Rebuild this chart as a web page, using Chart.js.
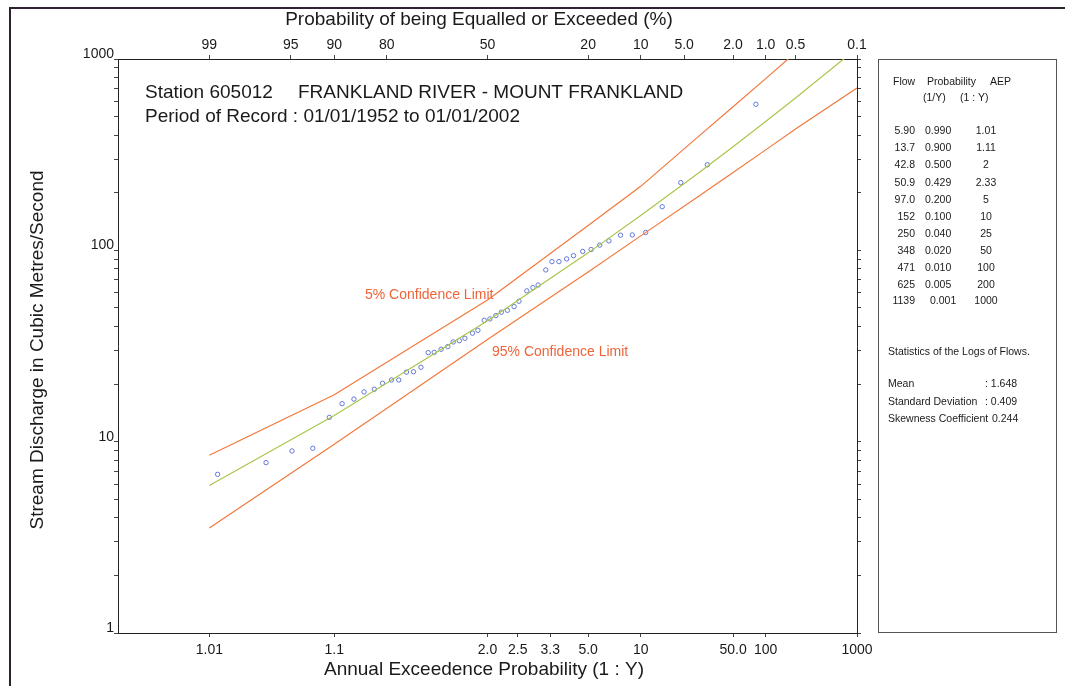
<!DOCTYPE html>
<html>
<head>
<meta charset="utf-8">
<title>Flood frequency - Station 605012</title>
<script src="https://cdn.jsdelivr.net/npm/chart.js@4.4.1/dist/chart.umd.min.js"></script>
<style>
html, body { margin: 0; padding: 0; background: #fff; }
#wrap { position: relative; width: 1065px; height: 686px; }
</style>
</head>
<body>
<div id="wrap"><canvas id="floodChart" width="1065" height="686"></canvas></div>
<script>
// ranked annual maxima: exceedance probability (%) and flow (m3/s)
const obsProb = [98.8, 96.8, 94.9, 92.8, 90.7, 88.8, 86.8, 84.9, 82.8, 81.0,
                 78.9, 77.1, 75.1, 73.2, 71.1, 69.0, 67.2, 65.1, 63.0, 61.3,
                 59.3, 57.5, 55.0, 53.2, 51.1, 49.2, 47.2, 45.4, 43.4, 41.2,
                 39.6, 37.1, 35.2, 33.6, 31.3, 29.5, 27.5, 25.4, 23.6, 21.3,
                 19.3, 17.4, 15.5, 13.3, 11.3, 9.3, 7.2, 5.3, 3.3, 1.24];
const obsFlow = [6.75, 7.77, 8.94, 9.24, 13.4, 15.8, 16.7, 18.2, 18.8, 20.2,
                 21.0, 21.0, 23.1, 23.2, 24.5, 29.2, 29.3, 30.4, 31.4, 33.2,
                 33.7, 34.7, 36.9, 38.2, 43.1, 43.8, 45.6, 47.5, 48.6, 50.8,
                 54.2, 61.4, 63.8, 65.9, 79.0, 87.3, 87.3, 90.2, 93.8, 98.7,
                 101, 106.5, 112, 120, 120.4, 124, 169, 226, 280, 580];

// fitted curve, straight from the table in the side panel
const fitProb = [99, 90, 50, 42.9, 20, 10, 4, 2, 1, 0.5, 0.1];
const fitFlow = [5.90, 13.7, 42.8, 50.9, 97.0, 152, 250, 348, 471, 625, 1139];
const fitProbText = ['0.990', '0.900', '0.500', '0.429', '0.200', '0.100', '0.040', '0.020', '0.010', '0.005', '0.001'];
const fitFlowText = ['5.90', '13.7', '42.8', '50.9', '97.0', '152', '250', '348', '471', '625', '1139'];
const fitAepText = ['1.01', '1.11', '2', '2.33', '5', '10', '25', '50', '100', '200', '1000'];

// confidence limits
const upperProb = [99, 90, 50, 20, 10, 4, 2, 1, 0.5];
const upperFlow = [8.5, 17.6, 55, 135, 216, 387, 563, 790, 1080];
const lowerProb = [99, 90, 50, 20, 10, 4, 2, 1, 0.5, 0.1];
const lowerFlow = [3.54, 9.7, 34.2, 77, 119, 189, 255, 335, 431, 706];

// axis ticks
const topTickProb = [99, 95, 90, 80, 50, 20, 10, 5, 2, 1, 0.5, 0.1];
const topTickLabels = ['99', '95', '90', '80', '50', '20', '10', '5.0', '2.0', '1.0', '0.5', '0.1'];
const bottomTickProb = [99, 90, 50, 40, 30, 20, 10, 2, 1, 0.1];
const bottomTickLabels = ['1.01', '1.1', '2.0', '2.5', '3.3', '5.0', '10', '50.0', '100', '1000'];
const flowTicks = [1, 2, 3, 4, 5, 6, 7, 8, 9, 10, 20, 30, 40, 50, 60, 70, 80, 90,
                   100, 200, 300, 400, 500, 600, 700, 800, 900, 1000];
const flowLabelled = [1, 10, 100, 1000];

const FONT = '"Liberation Sans", Arial, sans-serif';

// inverse normal (Acklam)
function normInv(p) {
    const a = [-39.69683028665376, 220.9460984245205, -275.9285104469687, 138.3577518672690, -30.66479806614716, 2.506628277459239];
    const b = [-54.47609879822406, 161.5858368580409, -155.6989798598866, 66.80131188771972, -13.28068155288572];
    const c = [-0.007784894002430293, -0.3223964580411365, -2.400758277161838, -2.549732539343734, 4.374664141464968, 2.938163982698783];
    const d = [0.007784695709041462, 0.3224671290700398, 2.445134137142996, 3.754408661907416];
    const pl = 0.02425;
    let q, r;
    if (p < pl) {
        q = Math.sqrt(-2 * Math.log(p));
        return (((((c[0] * q + c[1]) * q + c[2]) * q + c[3]) * q + c[4]) * q + c[5]) / ((((d[0] * q + d[1]) * q + d[2]) * q + d[3]) * q + 1);
    }
    if (p > 1 - pl) {
        q = Math.sqrt(-2 * Math.log(1 - p));
        return -(((((c[0] * q + c[1]) * q + c[2]) * q + c[3]) * q + c[4]) * q + c[5]) / ((((d[0] * q + d[1]) * q + d[2]) * q + d[3]) * q + 1);
    }
    q = p - 0.5;
    r = q * q;
    return (((((a[0] * r + a[1]) * r + a[2]) * r + a[3]) * r + a[4]) * r + a[5]) * q / (((((b[0] * r + b[1]) * r + b[2]) * r + b[3]) * r + b[4]) * r + 1);
}

function normCdf(z) {
    const t = 1 / (1 + 0.2316419 * Math.abs(z));
    const y = 1 - 0.3989423 * Math.exp(-z * z / 2) * t * (0.3193815 + t * (-0.3565638 + t * (1.781478 + t * (-1.821256 + t * 1.330274))));
    return z >= 0 ? y : 1 - y;
}

// exceedance % -> standard normal variate
const zOf = pct => normInv(1 - pct / 100);

// normal probability paper scale
class ProbabilityScale extends Chart.Scale {
    parse(raw) { return +raw; }
    determineDataLimits() {
        this.min = this.options.min;
        this.max = this.options.max;
    }
    buildTicks() {
        return (this.options.ticks.values || []).map(v => ({ value: v }));
    }
    configure() {
        super.configure();
        this._zStart = zOf(this.min);
        this._zEnd = zOf(this.max);
    }
    getLabelForValue(v) { return String(v); }
    getPixelForValue(v) {
        return this.getPixelForDecimal((zOf(v) - this._zStart) / (this._zEnd - this._zStart));
    }
    getValueForPixel(px) {
        const z = this._zStart + this.getDecimalForPixel(px) * (this._zEnd - this._zStart);
        return 100 * (1 - normCdf(z));
    }
    getPixelForTick(i) { return this.getPixelForValue(this.ticks[i].value); }
    getBasePixel() { return this.getPixelForValue(this.min); }
}
ProbabilityScale.id = 'probability';
ProbabilityScale.defaults = {};
Chart.register(ProbabilityScale);

const pairs = (xs, ys) => xs.map((x, i) => ({ x: x, y: ys[i] }));

const axisGrid = { display: true, drawOnChartArea: false, drawTicks: true, tickLength: 4, color: '#444', lineWidth: 1 };
const axisBorder = { display: true, color: '#222', width: 1 };

const annotations = {
    id: 'annotations',
    afterDraw(chart) {
        const ctx = chart.ctx;
        ctx.save();

        // page frame
        ctx.strokeStyle = '#2e2230';
        ctx.lineWidth = 2;
        ctx.beginPath();
        ctx.moveTo(10, 686);
        ctx.lineTo(10, 8);
        ctx.lineTo(1065, 8);
        ctx.stroke();

        ctx.fillStyle = '#1a1a1a';
        ctx.textBaseline = 'middle';

        // axis titles
        ctx.font = '19px ' + FONT;
        ctx.textAlign = 'center';
        ctx.fillText('Probability of being Equalled or Exceeded (%)', 479, 20);
        ctx.fillText('Annual Exceedence Probability (1 : Y)', 484, 670);
        ctx.save();
        ctx.translate(38, 350);
        ctx.rotate(-Math.PI / 2);
        ctx.fillText('Stream Discharge in Cubic Metres/Second', 0, 0);
        ctx.restore();

        // station header
        ctx.textAlign = 'left';
        ctx.font = '19px ' + FONT;
        ctx.fillText('Station 605012', 145, 93);
        ctx.fillText('FRANKLAND RIVER - MOUNT FRANKLAND', 298, 93);
        ctx.fillText('Period of Record : 01/01/1952 to 01/01/2002', 145, 117);

        // confidence limit labels
        ctx.font = '14px ' + FONT;
        ctx.fillStyle = '#f0643a';
        ctx.fillText('5% Confidence Limit', 365, 295);
        ctx.fillText('95% Confidence Limit', 492, 352);

        // side panel
        ctx.strokeStyle = '#555';
        ctx.lineWidth = 1;
        ctx.strokeRect(878.5, 59.5, 178, 573);
        ctx.fillStyle = '#1a1a1a';
        ctx.font = '10.5px ' + FONT;
        ctx.fillText('Flow', 893, 82);
        ctx.fillText('Probability', 927, 82);
        ctx.fillText('AEP', 990, 82);
        ctx.fillText('(1/Y)', 923, 98);
        ctx.fillText('(1 : Y)', 960, 98);
        const rowY = [131, 148, 165, 183, 200, 217, 234, 251, 268, 285, 301];
        fitFlowText.forEach((t, i) => {
            ctx.textAlign = 'right';
            ctx.fillText(t, 915, rowY[i]);
            ctx.textAlign = 'left';
            ctx.fillText(fitProbText[i], i === 10 ? 930 : 925, rowY[i]);
            ctx.textAlign = 'center';
            ctx.fillText(fitAepText[i], 986, rowY[i]);
        });
        ctx.textAlign = 'left';
        ctx.fillText('Statistics of the Logs of Flows.', 888, 352);
        ctx.fillText('Mean', 888, 384);
        ctx.fillText(': 1.648', 985, 384);
        ctx.fillText('Standard Deviation', 888, 402);
        ctx.fillText(': 0.409', 985, 402);
        ctx.fillText('Skewness Coefficient', 888, 419);
        ctx.fillText('0.244', 992, 419);

        ctx.restore();
    }
};

new Chart(document.getElementById('floodChart'), {
    type: 'scatter',
    data: {
        datasets: [
            {
                label: '5% Confidence Limit',
                data: pairs(upperProb, upperFlow),
                showLine: true,
                borderColor: '#f2783c',
                borderWidth: 1.2,
                pointRadius: 0,
                tension: 0
            },
            {
                label: '95% Confidence Limit',
                data: pairs(lowerProb, lowerFlow),
                showLine: true,
                borderColor: '#f2783c',
                borderWidth: 1.2,
                pointRadius: 0,
                tension: 0
            },
            {
                label: 'Fitted',
                data: pairs(fitProb, fitFlow),
                showLine: true,
                borderColor: '#a8c64a',
                borderWidth: 1.2,
                pointRadius: 0,
                tension: 0
            },
            {
                label: 'Recorded',
                data: pairs(obsProb, obsFlow),
                showLine: false,
                pointRadius: 2.2,
                pointStyle: 'circle',
                borderColor: '#6478d8',
                backgroundColor: 'rgba(0,0,0,0)',
                pointBorderWidth: 1
            }
        ]
    },
    options: {
        responsive: false,
        animation: false,
        events: [],
        layout: { padding: 0 },
        plugins: {
            legend: { display: false },
            tooltip: { enabled: false }
        },
        scales: {
            x: {
                type: 'probability',
                position: 'bottom',
                min: 99.9,
                max: 0.1,
                grid: axisGrid,
                border: axisBorder,
                ticks: {
                    values: bottomTickProb,
                    autoSkip: false,
                    maxRotation: 0,
                    padding: 5,
                    color: '#1a1a1a',
                    font: { family: FONT, size: 14 },
                    callback: (v, i) => bottomTickLabels[i]
                },
                afterFit: s => { s.height = 53; }
            },
            x2: {
                type: 'probability',
                position: 'top',
                min: 99.9,
                max: 0.1,
                grid: axisGrid,
                border: axisBorder,
                ticks: {
                    values: topTickProb,
                    autoSkip: false,
                    maxRotation: 0,
                    padding: 1,
                    color: '#1a1a1a',
                    font: { family: FONT, size: 14 },
                    callback: (v, i) => topTickLabels[i]
                },
                afterFit: s => { s.height = 59; }
            },
            y: {
                type: 'logarithmic',
                position: 'left',
                min: 1,
                max: 1000,
                grid: axisGrid,
                border: axisBorder,
                afterBuildTicks: s => { s.ticks = flowTicks.map(v => ({ value: v })); },
                ticks: {
                    autoSkip: false,
                    padding: 0,
                    labelOffset: -5,
                    color: '#1a1a1a',
                    font: { family: FONT, size: 14 },
                    callback: v => flowLabelled.includes(v) ? String(v) : ''
                },
                afterFit: s => { s.width = 118; }
            },
            y2: {
                type: 'logarithmic',
                position: 'right',
                min: 1,
                max: 1000,
                grid: axisGrid,
                border: axisBorder,
                afterBuildTicks: s => { s.ticks = flowTicks.map(v => ({ value: v })); },
                ticks: { display: false },
                afterFit: s => { s.width = 208; }
            }
        }
    },
    plugins: [annotations]
});
</script>
</body>
</html>
